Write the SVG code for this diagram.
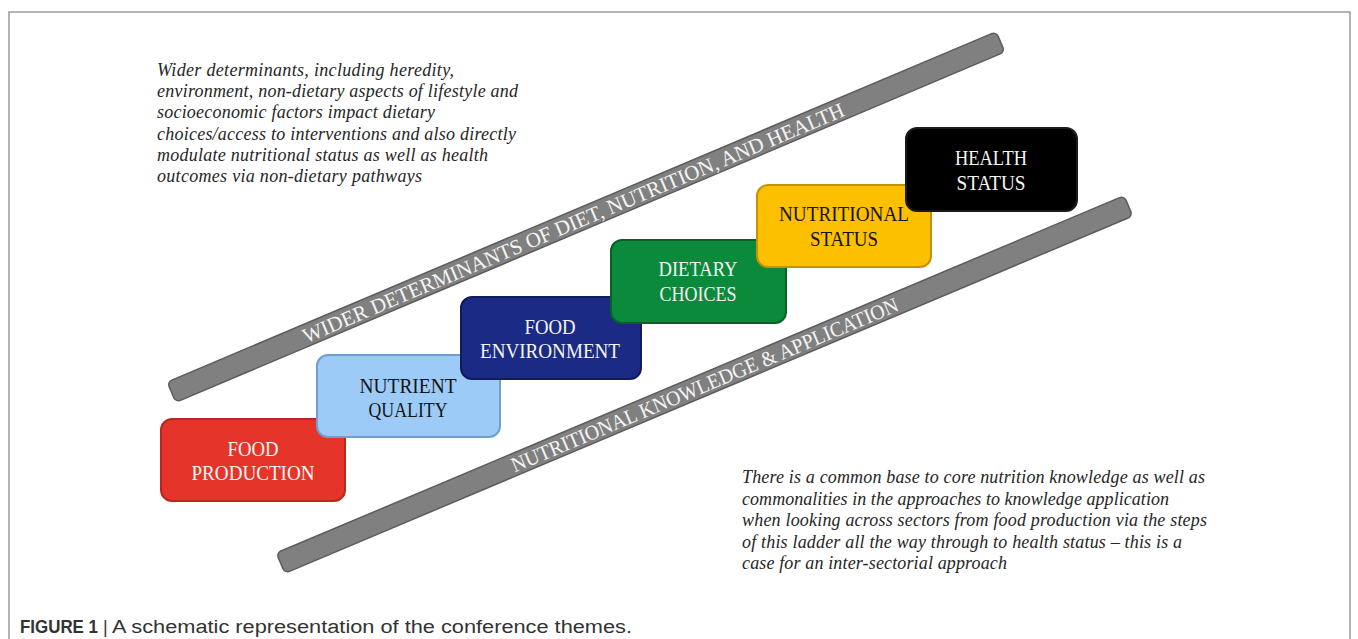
<svg xmlns="http://www.w3.org/2000/svg" width="1358" height="639" viewBox="0 0 1358 639">
<style>
.frame{fill:none;stroke:#9a9a9a;stroke-width:1.5}
.bar{fill:#808080;stroke:#5c5c5c;stroke-width:1.5}
.bartxt{font-family:"Liberation Serif","DejaVu Serif",serif;font-size:21px;fill:#f4f4f4;text-anchor:middle}
.box{stroke-width:2}
.lbl{font-family:"Liberation Serif","DejaVu Serif",serif;font-size:21px;text-anchor:middle}
.light{fill:#f5f5f5}
.dark{fill:#141414}
.para{font-family:"Liberation Serif","DejaVu Serif",serif;font-style:italic;font-size:18px;fill:#262626}
.cap{font-family:"Liberation Sans",Arial,sans-serif;font-size:18px;fill:#333}
</style>
<rect width="1358" height="639" fill="#ffffff"/>
<path class="frame" d="M9,639 V12 H1350 V639"/>

<g id="connectors">
  <g id="bar-wider" transform="translate(586,217) rotate(-22.91)">
    <rect class="bar" x="-450" y="-11" width="900" height="22" rx="5"/>
    <text class="bartxt" x="-14" y="7.5" textLength="586" lengthAdjust="spacingAndGlyphs">WIDER DETERMINANTS OF DIET, NUTRITION, AND HEALTH</text>
  </g>
  <g id="bar-knowledge" transform="translate(704.5,384.5) rotate(-22.85)">
    <rect class="bar" x="-460" y="-11" width="920" height="22" rx="5"/>
    <text class="bartxt" x="0" y="7.5" textLength="418" lengthAdjust="spacingAndGlyphs">NUTRITIONAL KNOWLEDGE &amp; APPLICATION</text>
  </g>
</g>

<g id="food-production">
  <rect class="box" x="161" y="419" width="184" height="82" rx="11" fill="#e5352b" stroke="#b9271f"/>
  <text class="lbl light" x="253" y="456" textLength="51" lengthAdjust="spacingAndGlyphs">FOOD</text>
  <text class="lbl light" x="253" y="480" textLength="123" lengthAdjust="spacingAndGlyphs">PRODUCTION</text>
</g>
<g id="nutrient-quality">
  <rect class="box" x="317" y="355" width="183" height="82" rx="11" fill="#9dcbf7" stroke="#6d9fcf"/>
  <text class="lbl dark" x="408" y="393" textLength="97" lengthAdjust="spacingAndGlyphs">NUTRIENT</text>
  <text class="lbl dark" x="408" y="417" textLength="79" lengthAdjust="spacingAndGlyphs">QUALITY</text>
</g>
<g id="food-environment">
  <rect class="box" x="461" y="297" width="180" height="82" rx="11" fill="#1b2a84" stroke="#111a5a"/>
  <text class="lbl light" x="550" y="334" textLength="51" lengthAdjust="spacingAndGlyphs">FOOD</text>
  <text class="lbl light" x="550" y="358" textLength="140" lengthAdjust="spacingAndGlyphs">ENVIRONMENT</text>
</g>
<g id="dietary-choices">
  <rect class="box" x="611" y="240" width="175" height="83" rx="11" fill="#0b8a3b" stroke="#066027"/>
  <text class="lbl light" x="698" y="276" textLength="79" lengthAdjust="spacingAndGlyphs">DIETARY</text>
  <text class="lbl light" x="698" y="301" textLength="77" lengthAdjust="spacingAndGlyphs">CHOICES</text>
</g>
<g id="nutritional-status">
  <rect class="box" x="757" y="185" width="174" height="82" rx="11" fill="#fdc000" stroke="#c39200"/>
  <text class="lbl dark" x="844" y="221" textLength="130" lengthAdjust="spacingAndGlyphs">NUTRITIONAL</text>
  <text class="lbl dark" x="844" y="246" textLength="68" lengthAdjust="spacingAndGlyphs">STATUS</text>
</g>
<g id="health-status">
  <rect class="box" x="906" y="128" width="171" height="83" rx="11" fill="#000000" stroke="#1a1a1a"/>
  <text class="lbl light" x="991" y="165" textLength="72" lengthAdjust="spacingAndGlyphs">HEALTH</text>
  <text class="lbl light" x="991" y="190" textLength="69" lengthAdjust="spacingAndGlyphs">STATUS</text>
</g>

<g id="note-wider">
  <text class="para" x="157" y="76" textLength="297">Wider determinants, including heredity,</text>
  <text class="para" x="157" y="97" textLength="361">environment, non-dietary aspects of lifestyle and</text>
  <text class="para" x="157" y="118" textLength="278">socioeconomic factors impact dietary</text>
  <text class="para" x="157" y="140" textLength="359">choices/access to interventions and also directly</text>
  <text class="para" x="157" y="161" textLength="331">modulate nutritional status as well as health</text>
  <text class="para" x="157" y="182" textLength="265">outcomes via non-dietary pathways</text>
</g>
<g id="note-knowledge">
  <text class="para" x="742" y="483" textLength="463">There is a common base to core nutrition knowledge as well as</text>
  <text class="para" x="742" y="504.5" textLength="427">commonalities in the approaches to knowledge application</text>
  <text class="para" x="742" y="526" textLength="465">when looking across sectors from food production via the steps</text>
  <text class="para" x="742" y="547.5" textLength="440">of this ladder all the way through to health status – this is a</text>
  <text class="para" x="742" y="569" textLength="265">case for an inter-sectorial approach</text>
</g>

<g id="caption">
  <text class="cap" x="20" y="633" font-weight="bold" textLength="78" lengthAdjust="spacingAndGlyphs" fill="#222">FIGURE 1</text>
  <text class="cap" x="103" y="633" fill="#777">|</text>
  <text class="cap" x="112" y="633" textLength="520" lengthAdjust="spacingAndGlyphs">A schematic representation of the conference themes.</text>
</g>
</svg>
